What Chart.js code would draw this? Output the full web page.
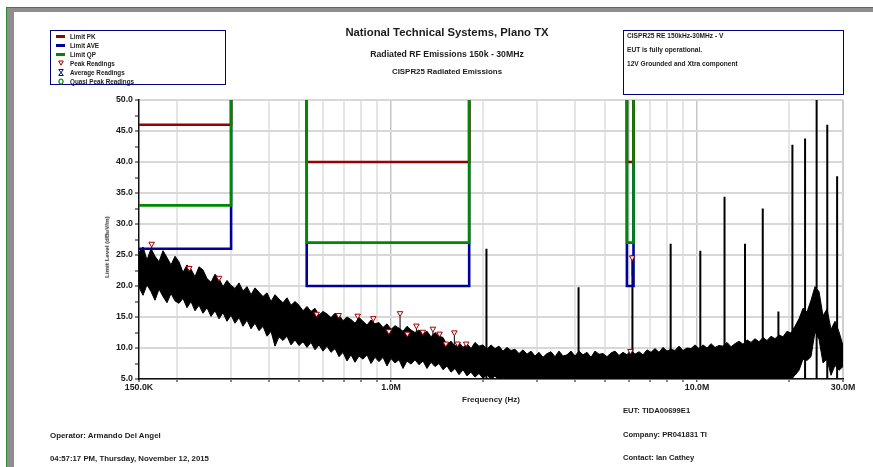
<!DOCTYPE html>
<html>
<head>
<meta charset="utf-8">
<title>CISPR25 Radiated Emissions</title>
<script src="https://cdn.jsdelivr.net/npm/chart.js@4.4.1/dist/chart.umd.min.js"></script>
<style>
  body { margin: 0; width: 873px; height: 467px; overflow: hidden; background: #fff; position: relative;
         font-family: "Liberation Sans", Arial, sans-serif; font-weight: bold; color: #1c1c1c; }
  #chart { position: absolute; left: 0; top: 0; }
  .abs { position: absolute; white-space: nowrap; line-height: 1; filter: grayscale(1); }
  .frame { position: absolute; }
  .box { position: absolute; box-sizing: border-box; border: 1.5px solid #000080; background: #fff; }
  .legRow { position: absolute; left: 5px; height: 7px; font-size: 6.3px; line-height: 7px; white-space: nowrap; }
  .legRow .sw { position: absolute; left: 0; top: 2.5px; width: 9px; height: 2.5px; }
  .legRow svg { position: absolute; left: 2px; top: 0; }
  .legRow span { position: absolute; left: 14px; top: 0; filter: grayscale(1); }
</style>
</head>
<body>
<canvas id="chart" width="873" height="467"></canvas>

<!-- рамка страницы -->
<div class="frame" style="left:6px;top:7px;width:867px;height:1px;background:#2f8a2f"></div>
<div class="frame" style="left:6px;top:7px;width:1px;height:460px;background:#2f8a2f"></div>
<div class="frame" style="left:7px;top:8px;width:866px;height:4px;background:#8e8e8e"></div>
<div class="frame" style="left:7px;top:8px;width:7px;height:459px;background:#8e8e8e"></div>

<!-- легенда -->
<div class="box" style="left:50px;top:30px;width:176px;height:55px">
  <div class="legRow" style="top:1.5px"><div class="sw" style="background:#990000"></div><span>Limit PK</span></div>
  <div class="legRow" style="top:10.5px"><div class="sw" style="background:#000099"></div><span>Limit AVE</span></div>
  <div class="legRow" style="top:19.5px"><div class="sw" style="background:#008800"></div><span>Limit QP</span></div>
  <div class="legRow" style="top:28.5px"><svg width="6" height="6"><path d="M0.7 1 L5.3 1 L3 5.2 Z" fill="#fff" stroke="#a00000" stroke-width="1"/></svg><span>Peak Readings</span></div>
  <div class="legRow" style="top:38px"><svg width="6" height="7"><path d="M0.5 0.5 H5.5 M0.5 6.5 H5.5 M1 1 L5 6 M5 1 L1 6" stroke="#000099" stroke-width="1"/></svg><span>Average Readings</span></div>
  <div class="legRow" style="top:47px"><svg width="6" height="7"><ellipse cx="3" cy="3.5" rx="2" ry="2.5" fill="none" stroke="#008800" stroke-width="1.2"/></svg><span>Quasi Peak Readings</span></div>
</div>

<!-- заголовки -->
<div class="abs" style="left:447px;top:27px;transform:translateX(-50%);font-size:11.3px">National Technical Systems, Plano TX</div>
<div class="abs" style="left:447px;top:49.5px;transform:translateX(-50%);font-size:8.7px">Radiated RF Emissions 150k - 30MHz</div>
<div class="abs" style="left:447px;top:68px;transform:translateX(-50%);font-size:7.9px">CISPR25 Radiated Emissions</div>

<!-- описание теста -->
<div class="box" style="left:623px;top:30px;width:221px;height:65px">
  <div class="abs" style="left:3px;top:1.5px;font-size:6.6px">CISPR25 RE 150kHz-30MHz - V</div>
  <div class="abs" style="left:3px;top:15.5px;font-size:6.6px">EUT is fully operational.</div>
  <div class="abs" style="left:3px;top:29.5px;font-size:6.6px">12V Grounded and Xtra component</div>
</div>

<!-- подпись оси Y -->
<div class="abs" style="left:107px;top:247px;font-size:6.2px;transform:translate(-50%,-50%) rotate(-90deg)">Limit Level (dBuV/m)</div>

<!-- нижний колонтитул -->
<div class="abs" style="left:623px;top:407px;font-size:7.6px">EUT: TIDA00699E1</div>
<div class="abs" style="left:623px;top:431px;font-size:7.6px">Company: PR041831 TI</div>
<div class="abs" style="left:623px;top:454px;font-size:7.6px">Contact: Ian Cathey</div>
<div class="abs" style="left:50px;top:432px;font-size:7.9px">Operator: Armando Del Angel</div>
<div class="abs" style="left:50px;top:455px;font-size:7.8px">04:57:17 PM, Thursday, November 12, 2015</div>

<script>
// Частотная сетка развертки (МГц), логарифмический шаг
const sweepStartMHz = 0.15;
const sweepStopMHz = 30;

// Верхняя и нижняя огибающая шумовой дорожки (дБмкВ/м)
const noiseHi = [
  25.4, 26.3, 24.2, 26.0, 24.8, 23.9, 25.7, 24.6, 23.4, 24.8,
  23.9, 22.2, 23.4, 22.7, 21.5, 23.1, 22.6, 21.2, 20.6, 21.9,
  21.2, 19.9, 20.9, 20.1, 19.6, 20.5, 19.2, 19.9, 18.6, 19.7,
  19.0, 18.3, 18.9, 17.5, 18.6, 17.9, 17.3, 18.1, 16.9, 17.5,
  16.9, 16.0, 16.7, 15.9, 16.4, 15.3, 15.9, 15.5, 14.9, 15.6,
  15.3, 14.4, 15.0, 14.6, 14.0, 14.9, 14.3, 13.7, 14.5, 13.9,
  14.1, 13.3, 13.9, 13.0, 13.6, 13.2, 12.7, 13.5, 12.9, 12.5,
  12.9, 12.3, 12.7, 11.8, 12.5, 11.9, 11.7, 10.5, 11.1, 10.3,
  10.9, 10.1, 10.7, 9.9, 10.9, 10.3, 10.5, 9.8, 10.5, 9.9,
  10.3, 9.5, 10.1, 9.6, 9.8, 9.1, 9.7, 9.0, 9.5, 8.7,
  9.3, 8.5, 9.1, 9.4, 8.6, 9.5, 8.7, 8.9, 9.5, 8.7,
  9.5, 8.9, 9.3, 8.5, 9.5, 9.0, 9.1, 8.6, 9.2, 9.5,
  8.8, 9.3, 8.9, 9.7, 9.0, 9.4, 8.9, 9.7, 9.3, 9.9,
  9.3, 10.1, 9.5, 9.8, 9.6, 10.3, 9.6, 10.0, 9.9, 10.5,
  9.9, 10.5, 10.0, 10.7, 10.1, 10.4, 10.3, 10.9, 10.2, 10.7,
  11.1, 10.6, 11.3, 10.9, 11.5, 11.0, 11.7, 11.2, 11.9, 11.5,
  12.1, 11.8, 12.7, 12.4, 13.5, 14.7, 16.4, 15.8, 17.7, 19.9,
  19.1, 15.2, 16.3, 13.0, 14.3, 12.6, 10.4
];
const noiseLo = [
  19.8, 18.5, 20.2, 19.1, 17.7, 19.5, 18.3, 17.3, 18.8, 17.6,
  17.2, 18.0, 16.5, 17.5, 16.0, 16.9, 15.6, 16.5, 15.1, 16.0,
  14.7, 15.7, 14.3, 15.3, 14.0, 14.9, 13.5, 14.5, 13.1, 14.0,
  12.8, 13.5, 11.9, 12.7, 10.3, 11.8, 11.2, 11.9, 10.5, 11.3,
  10.4, 11.0, 10.1, 10.9, 9.7, 10.5, 9.5, 10.3, 9.3, 9.9,
  8.6, 9.3, 7.9, 8.9, 7.7, 8.7, 8.2, 8.9, 7.5, 8.5,
  7.8, 8.5, 7.1, 8.3, 7.6, 8.1, 6.7, 7.9, 7.4, 8.1,
  7.3, 7.9, 6.7, 7.7, 7.0, 7.5, 6.5, 7.1, 6.1, 6.7,
  5.7, 6.5, 5.5, 6.1, 5.3, 5.9, 5.1, 5.7, 4.9, 5.5,
  4.7, 5.3, 4.3, 4.9, 4.0, 4.6, 4.0, 4.4, 4.0, 4.0,
  4.0, 4.0, 4.0, 4.0, 4.0, 4.0, 4.0, 4.0, 4.0, 4.0,
  4.0, 4.0, 4.0, 4.0, 4.0, 4.0, 4.0, 4.0, 4.0, 4.0,
  4.0, 4.0, 4.0, 4.0, 4.0, 4.0, 4.0, 4.0, 4.0, 4.0,
  4.0, 4.0, 4.0, 4.0, 4.0, 4.0, 4.0, 4.0, 4.0, 4.0,
  4.0, 4.0, 4.0, 4.0, 4.0, 4.0, 4.0, 4.0, 4.0, 4.0,
  4.0, 4.0, 4.0, 4.0, 4.0, 4.0, 4.0, 4.0, 4.0, 4.0,
  4.0, 4.0, 4.5, 5.0, 5.6, 6.4, 8.2, 8.0, 8.6, 12.6,
  11.4, 7.6, 8.2, 5.6, 7.2, 6.4, 7.0
];

// Гармоники преобразователя (МГц) и их уровни
const spikeFreq = [2.05, 4.1, 6.15, 8.2, 10.25, 12.3, 14.35, 16.4, 18.45, 20.5, 22.55, 24.6, 26.65, 28.7];
const spikeLevel = [26.0, 19.8, 25.0, 26.8, 25.7, 34.4, 26.8, 32.5, 15.9, 42.8, 43.8, 50.5, 46.0, 37.7];

// Пиковые отсчеты (МГц, дБмкВ/м)
const peakFreq = [0.165, 0.219, 0.274, 0.571, 0.674, 0.778, 0.875, 0.984, 1.07, 1.13,
                  1.21, 1.27, 1.37, 1.44, 1.51, 1.61, 1.65, 1.76, 6.06, 6.14];
const peakLevel = [26.8, 22.9, 21.3, 15.5, 15.3, 15.2, 14.8, 12.7, 15.6, 12.3,
                   13.6, 12.6, 13.1, 12.3, 10.7, 12.5, 10.7, 10.7, 9.5, 24.6];

// Полосы CISPR25 и пределы
const bandStart = [0.15, 0.53, 5.9];
const bandStop = [0.3, 1.8, 6.2];
const limitPK = [46, 40, 40];
const limitQP = [33, 27, 27];
const limitAVE = [26, 20, 20];

// Оси
const yMin = 5;
const yMax = 50;
const xTickValues = [0.15, 0.2, 0.3, 0.4, 0.5, 0.6, 0.7, 0.8, 0.9, 1, 2, 3, 4, 5, 6, 7, 8, 9, 10, 20, 30];
const xLabelValues = [0.15, 1, 10, 30];
const xLabelTexts = ['150.0K', '1.0M', '10.0M', '30.0M'];

const fontFamily = '"Liberation Sans", Arial, sans-serif';

function sameValue(a, b) {
    return Math.abs(a - b) < 1e-9;
}

//Точки огибающей по сетке развертки
function tracePoints(values) {
    const n = values.length;
    return values.map((v, i) => ({
        x: sweepStartMHz * Math.pow(sweepStopMHz / sweepStartMHz, i / (n - 1)),
        y: v
    }));
}

//Ступенчатая линия предела: вертикали от верха графика до уровня
function limitPath(levels) {
    const pts = [];
    levels.forEach((lvl, i) => {
        if (bandStart[i] > sweepStartMHz) {
            pts.push({ x: bandStart[i], y: yMax });
        }
        pts.push({ x: bandStart[i], y: lvl });
        pts.push({ x: bandStop[i], y: lvl });
        pts.push({ x: bandStop[i], y: yMax });
        pts.push({ x: bandStop[i], y: null });
    });
    return pts;
}

//Вертикальные выбросы гармоник
function spikePoints() {
    const pts = [];
    spikeFreq.forEach((f, i) => {
        pts.push({ x: f, y: 4 });
        pts.push({ x: f, y: spikeLevel[i] });
        pts.push({ x: f, y: null });
    });
    return pts;
}

//Иглы шума под пиковыми отсчетами
function needlePoints() {
    const pts = [];
    peakFreq.forEach((f, i) => {
        pts.push({ x: f, y: peakLevel[i] - 3 });
        pts.push({ x: f, y: peakLevel[i] - 0.5 });
        pts.push({ x: f, y: null });
    });
    return pts;
}

const lineBase = { pointRadius: 0, spanGaps: false, tension: 0, fill: false };

const datasets = [
    {
        label: 'Peak Readings',
        data: peakFreq.map((f, i) => ({ x: f, y: peakLevel[i] })),
        showLine: false,
        pointStyle: 'triangle',
        rotation: 180,
        pointRadius: 3.2,
        pointBorderWidth: 1,
        pointBorderColor: '#a00000',
        pointBackgroundColor: '#ffffff',
        order: 0
    },
    Object.assign({ label: 'Limit QP', data: limitPath(limitQP), borderColor: '#008800', borderWidth: 2.6, order: 1 }, lineBase),
    Object.assign({ label: 'Limit PK', data: limitPath(limitPK), borderColor: '#990000', borderWidth: 2.6, order: 2 }, lineBase),
    Object.assign({ label: 'Limit AVE', data: limitPath(limitAVE), borderColor: '#000099', borderWidth: 2.6, order: 3 }, lineBase),
    Object.assign({ label: 'needles', data: needlePoints(), borderColor: '#000', borderWidth: 1, order: 4 }, lineBase),
    Object.assign({ label: 'spikes', data: spikePoints(), borderColor: '#000', borderWidth: 2, order: 5 }, lineBase),
    Object.assign({}, lineBase, { label: 'trace hi', data: tracePoints(noiseHi), borderColor: '#000', borderWidth: 1, backgroundColor: '#000', fill: '+1', order: 6 }),
    Object.assign({ label: 'trace lo', data: tracePoints(noiseLo), borderColor: '#000', borderWidth: 1, order: 7 }, lineBase)
];

const tickFont = { family: fontFamily, size: 8.8, weight: 'bold' };

const config = {
    type: 'line',
    data: { datasets },
    options: {
        responsive: false,
        animation: false,
        devicePixelRatio: 1,
        events: [],
        layout: { padding: { left: 0, top: 100, right: 30, bottom: 0 } },
        plugins: {
            legend: { display: false },
            tooltip: { enabled: false }
        },
        scales: {
            x: {
                type: 'logarithmic',
                min: sweepStartMHz,
                max: sweepStopMHz,
                afterBuildTicks: axis => {
                    axis.ticks = xTickValues.map(v => ({ value: v }));
                },
                afterFit: axis => {
                    axis.height = 88;
                    axis.paddingLeft = 0;
                    axis.paddingRight = 0;
                },
                ticks: {
                    autoSkip: false,
                    maxRotation: 0,
                    padding: 0,
                    color: '#1c1c1c',
                    font: tickFont,
                    callback: value => {
                        const k = xLabelValues.findIndex(v => sameValue(v, value));
                        return k < 0 ? '' : xLabelTexts[k];
                    }
                },
                grid: {
                    color: ctx => {
                        const v = ctx.tick ? ctx.tick.value : 0;
                        if (sameValue(v, sweepStartMHz)) return 'rgba(0,0,0,0)';
                        if (sameValue(v, 1) || sameValue(v, 10)) return '#c6c6c6';
                        if (sameValue(v, sweepStopMHz)) return '#cfcfcf';
                        return '#e5e5e5';
                    },
                    lineWidth: ctx => {
                        const v = ctx.tick ? ctx.tick.value : 0;
                        return (sameValue(v, 1) || sameValue(v, 10)) ? 1.5 : 2;
                    },
                    tickColor: '#111',
                    tickWidth: 1,
                    tickLength: 3
                },
                border: { color: '#111', width: 1.5 },
                title: {
                    display: true,
                    text: 'Frequency (Hz)',
                    color: '#1c1c1c',
                    font: { family: fontFamily, size: 8, weight: 'bold' },
                    padding: { top: 0, bottom: 62.3 }
                }
            },
            y: {
                type: 'linear',
                min: yMin,
                max: yMax,
                afterFit: axis => {
                    axis.width = 139;
                    axis.paddingTop = 0;
                    axis.paddingBottom = 0;
                },
                ticks: {
                    stepSize: 2.5,
                    autoSkip: false,
                    padding: 2,
                    color: '#1c1c1c',
                    font: tickFont,
                    callback: value => (value % 5 === 0 ? value.toFixed(1) : '')
                },
                grid: {
                    color: ctx => (ctx.tick && ctx.tick.value % 5 === 0 ? '#d8d8d8' : 'rgba(0,0,0,0)'),
                    lineWidth: 2,
                    tickColor: '#111',
                    tickWidth: 1,
                    tickLength: 4
                },
                border: { color: '#111', width: 1.5 }
            }
        }
    }
};

const chart = new Chart(document.getElementById('chart'), config);
</script>
</body>
</html>
